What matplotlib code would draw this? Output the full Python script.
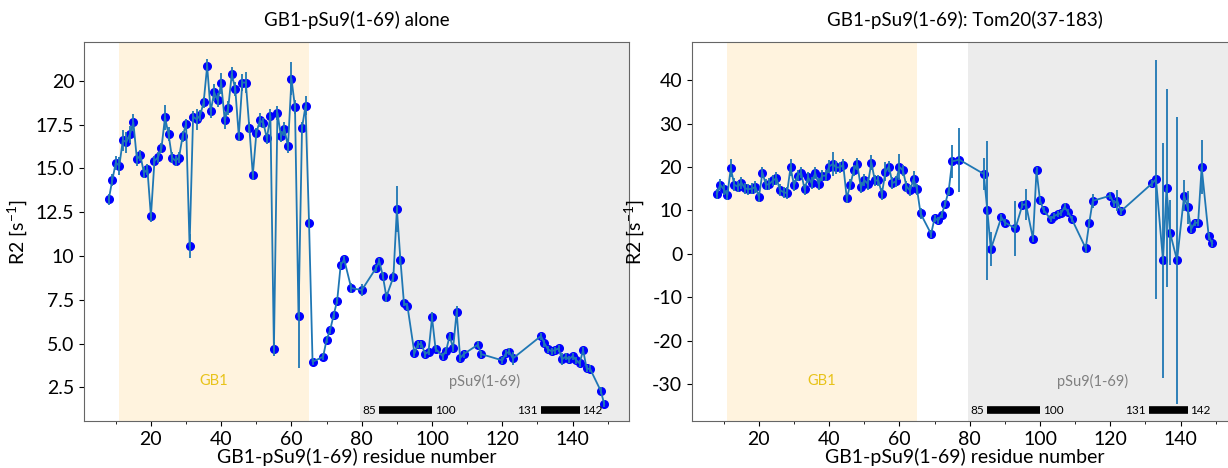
import numpy as np
import matplotlib.pyplot as plt
from matplotlib.ticker import MultipleLocator

plt.rcParams['font.family'] = ['Lato', 'DejaVu Sans']
plt.rcParams['axes.unicode_minus'] = False

# GB1-pSu9(1-69) alone
res_alone = list(range(8, 67)) + [
    69, 70, 71, 72, 73, 74, 75, 77, 80, 84, 85, 86, 87, 89, 90, 91, 92, 93,
    95, 96, 97, 98, 99, 100, 101, 103, 104, 105, 106, 107, 108, 109, 113, 114,
    120, 121, 122, 123, 131, 132, 133, 134, 135, 136, 137, 138, 139, 140, 141,
    142, 143, 144, 145, 148, 149]
r2_alone = [
    13.23, 14.33, 15.32, 15.15, 16.6, 16.5, 16.94, 17.62, 15.53, 15.74,
    14.75, 14.94, 12.26, 15.42, 15.63, 16.16, 17.91, 16.96, 15.61, 15.43,
    15.62, 16.83, 17.53, 10.57, 17.95, 17.8, 18.02, 18.77, 20.84, 18.25,
    19.34, 18.88, 19.85, 17.74, 18.46, 20.37, 19.54, 16.86, 19.9, 19.9,
    17.32, 14.63, 17.01, 17.74, 17.59, 16.71, 17.99, 4.67, 18.17, 16.83,
    17.24, 16.25, 20.11, 18.5, 6.55, 17.32, 18.57, 11.88, 3.96,
    4.25, 5.22, 5.77, 6.63, 7.44, 9.48, 9.8, 8.17, 8.05, 9.29, 9.69, 8.87,
    7.67, 8.8, 12.69, 9.78, 7.33, 7.14, 4.44, 4.97, 4.97, 4.4, 4.53, 6.49,
    4.7, 4.29, 4.59, 5.43, 4.74, 6.82, 4.17, 4.4, 4.93, 4.4, 4.04, 4.44,
    4.53, 4.15, 5.43, 5.01, 4.67, 4.57, 4.63, 4.72, 4.10, 4.25, 4.10, 4.29,
    4.06, 3.87, 4.63, 3.58, 3.55, 2.31, 1.56]
err_alone = [
    0.3, 0.35, 0.4, 0.5, 0.6, 0.6, 0.5, 0.5, 0.4, 0.3,
    0.3, 0.3, 0.3, 0.3, 0.3, 0.3, 0.7, 0.4, 0.3, 0.3,
    0.3, 0.3, 0.3, 0.7, 0.3, 0.6, 0.3, 0.3, 0.4, 0.4,
    0.5, 0.4, 0.6, 0.5, 0.4, 0.4, 0.4, 0.3, 0.5, 0.6,
    0.3, 0.3, 0.3, 0.4, 0.3, 0.3, 0.4, 0.4, 0.4, 0.3,
    0.4, 0.4, 0.95, 0.4, 2.95, 0.3, 0.55, 0.3, 0.2,
    0.2, 0.2, 0.2, 0.2, 0.2, 0.2, 0.2, 0.3, 0.35, 0.2, 0.2, 0.2,
    0.3, 0.3, 1.3, 0.3, 0.2, 0.2, 0.2, 0.2, 0.2, 0.2, 0.2, 0.3,
    0.2, 0.2, 0.2, 0.2, 0.2, 0.3, 0.2, 0.2, 0.2, 0.2, 0.2, 0.2,
    0.2, 0.35, 0.2, 0.2, 0.2, 0.2, 0.2, 0.2, 0.35, 0.2, 0.2, 0.2,
    0.2, 0.2, 0.2, 0.2, 0.2, 0.2, 0.2]

# GB1-pSu9(1-69) with Tom20(37-183)
res_tom = list(range(8, 67)) + [
    69, 70, 71, 72, 73, 74, 75, 77, 84, 85, 86, 89, 90, 93, 95, 96, 98, 99,
    100, 101, 103, 104, 105, 106, 107, 108, 109, 113, 114, 115, 120, 121, 122,
    123, 132, 133, 135, 136, 137, 139, 141, 142, 143, 144, 145, 146, 148, 149]
r2_tom = [
    13.8, 15.9, 14.9, 13.5, 19.7, 15.9, 15.5, 16.4, 15.1, 14.9,
    15.0, 15.4, 13.1, 18.7, 15.9, 16.1, 16.9, 17.4, 14.7, 14.2,
    14.0, 19.9, 15.8, 18.0, 18.7, 14.9, 17.6, 16.3, 18.6, 16.1,
    18.0, 18.0, 20.1, 20.7, 19.9, 19.9, 20.5, 12.8, 15.9, 19.2,
    20.7, 15.3, 17.0, 16.1, 21.0, 16.9, 16.9, 13.8, 18.9, 20.1,
    16.3, 16.7, 20.0, 19.2, 15.5, 14.6, 17.2, 14.9, 9.3,
    4.6, 8.2, 7.7, 9.0, 11.5, 14.5, 21.3, 21.7, 18.4, 10.0, 1.1, 8.4,
    7.2, 5.9, 11.3, 11.4, 3.5, 19.2, 12.3, 10.1, 8.0, 8.7, 9.1, 9.4,
    10.8, 9.6, 8.1, 1.3, 7.1, 12.2, 13.4, 11.6, 12.2, 9.8, 16.3, 17.2,
    -1.5, 15.1, 4.9, -1.5, 13.4, 10.7, 5.7, 7.1, 7.2, 20.0, 4.1, 2.4]
err_tom = [
    1.2, 1.3, 1.3, 1.2, 2.1, 1.5, 1.3, 1.4, 1.3, 1.3,
    1.3, 1.3, 1.2, 1.3, 1.3, 1.3, 1.3, 1.5, 1.3, 1.3,
    1.3, 2.0, 1.3, 1.3, 1.3, 1.3, 1.3, 1.3, 1.3, 1.3,
    1.3, 1.3, 1.5, 2.7, 1.5, 1.3, 1.3, 1.2, 1.3, 1.3,
    1.3, 1.3, 1.3, 1.3, 1.8, 1.3, 1.3, 1.3, 2.2, 1.3,
    1.3, 1.3, 3.0, 1.3, 1.3, 1.3, 1.8, 1.3, 1.3,
    1.0, 0.8, 0.8, 0.8, 0.8, 1.0, 3.8, 7.4, 3.6, 16.1, 4.0, 0.8,
    0.8, 6.3, 0.8, 3.5, 0.8, 0.8, 0.8, 0.8, 0.7, 0.7, 0.7, 0.7,
    0.8, 0.7, 0.7, 1.0, 1.0, 1.6, 0.8, 0.8, 2.4, 0.8, 0.8, 27.5,
    27.0, 22.8, 7.4, 33.1, 3.5, 3.8, 1.0, 0.8, 0.8, 6.3, 0.8, 0.8]

fig = plt.figure(figsize=(12.28, 4.68), dpi=100)
ax1 = fig.add_axes([0.0684, 0.1004, 0.4438, 0.809])
ax2 = fig.add_axes([0.5635, 0.1004, 0.4438, 0.809])


def panel(ax, x, y, e, title, ylim):
    ax.axvspan(11, 65, color='orange', alpha=0.13, lw=0, zorder=0)
    ax.axvspan(79.5, 160, color='gray', alpha=0.15, lw=0, zorder=0)
    ax.plot(x, y, 'o', color='blue', ms=5.5, zorder=2)
    ax.errorbar(x, y, yerr=e, color='C0', lw=1.3, elinewidth=1.3, zorder=3)
    ax.set_xlim(0.95, 156.05)
    ax.set_ylim(*ylim)
    ax.set_title(title, fontsize=13.5, pad=12)
    ax.set_xlabel('GB1-pSu9(1-69) residue number', fontsize=14, labelpad=0)
    ax.set_ylabel('R2 [s$^{\\mathregular{-1}}$]', fontsize=14)
    ax.xaxis.set_major_locator(MultipleLocator(20))
    ax.xaxis.set_minor_locator(MultipleLocator(10))
    ax.tick_params(labelsize=14)
    for s in ax.spines.values():
        s.set_color('0.4')
    tr = ax.get_xaxis_transform()
    ax.text(38, 0.105, 'GB1', color='#e8c31a', fontsize=10.5,
            ha='center', va='center', transform=tr)
    ax.text(115, 0.105, 'pSu9(1-69)', color='gray', fontsize=10.5,
            ha='center', va='center', transform=tr)
    for a, b in [(85, 100), (131, 142)]:
        ax.plot([a, b], [0.028, 0.028], color='black', lw=5.5,
                solid_capstyle='butt', transform=tr)
        ax.text(a - 0.8, 0.028, str(a), fontsize=8.5, ha='right',
                va='center', transform=tr)
        ax.text(b + 0.8, 0.028, str(b), fontsize=8.5, ha='left',
                va='center', transform=tr)


panel(ax1, res_alone, r2_alone, err_alone, 'GB1-pSu9(1-69) alone', (0.58, 22.19))
ax1.set_yticks([2.5, 5, 7.5, 10, 12.5, 15, 17.5, 20])
ax1.set_yticklabels(['2.5', '5.0', '7.5', '10', '12.5', '15.0', '17.5', '20'])

panel(ax2, res_tom, r2_tom, err_tom, 'GB1-pSu9(1-69): Tom20(37-183)', (-38.5, 48.7))
ax2.set_yticks(range(-30, 50, 10))

fig.savefig('out.png', dpi=100)
